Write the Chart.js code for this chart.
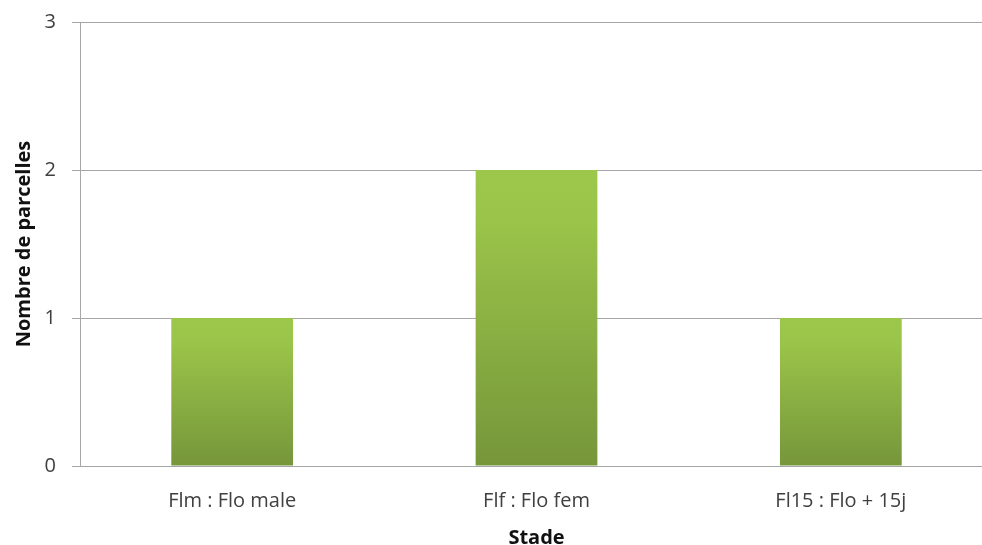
<!DOCTYPE html>
<html><head><meta charset="utf-8">
<script src="https://cdn.jsdelivr.net/npm/chart.js@4"></script>
<style>html,body{margin:0;padding:0;background:#fff;overflow:hidden;}#wrap{width:993px;height:545px;}</style>
</head><body><div id="wrap"><canvas id="c"></canvas></div>
<script>
const categories = ["Flm : Flo male", "Flf : Flo fem", "Fl15 : Flo + 15j"];
const values = [1, 2, 1];
const yTicks = [0, 1, 2, 3];
const xTitle = "Stade";
const yTitle = "Nombre de parcelles";

const FONT = "'Open Sans', 'Liberation Sans', sans-serif";

function barGradient(ctx) {
  const chart = ctx.chart;
  if (!chart.chartArea || ctx.type !== 'data') return '#8BB044';
  const ys = chart.scales.y;
  const top = ys.getPixelForValue(ctx.raw);
  const bot = ys.getPixelForValue(0);
  const g = chart.ctx.createLinearGradient(0, top, 0, bot);
  g.addColorStop(0, '#9CC74B');
  g.addColorStop(0.15, '#9BC54A');
  g.addColorStop(1, '#76963A');
  return g;
}

new Chart(document.getElementById('c'), {
  type: 'bar',
  data: {
    labels: categories,
    datasets: [{
      data: values,
      backgroundColor: barGradient,
      borderWidth: 0,
      categoryPercentage: 0.4,
      barPercentage: 1.0
    }]
  },
  options: {
    responsive: true,
    maintainAspectRatio: false,
    animation: false,
    layout: { padding: { top: 22, right: 0, bottom: 0, left: 0 } },
    plugins: { legend: { display: false }, tooltip: { enabled: false } },
    scales: {
      x: {
        grid: { display: false },
        border: { display: true, color: '#A6A6A6', width: 1 },
        ticks: { color: '#404040', font: { family: FONT, size: 20 }, padding: 15 },
        title: { display: true, text: xTitle, color: '#111', font: { family: FONT, size: 20, weight: 'bold' }, padding: { top: 6, bottom: -5 } },
        afterFit: (s) => { s.height = 79; s.paddingLeft = 0; s.paddingRight = 0; }
      },
      y: {
        min: 0, max: 3,
        afterBuildTicks: (s) => { s.ticks = yTicks.map(v => ({ value: v })); },
        grid: { color: '#A6A6A6', lineWidth: 1, tickLength: 8, drawTicks: true },
        border: { display: true, color: '#A6A6A6', width: 1 },
        ticks: { color: '#404040', font: { family: FONT, size: 20 }, padding: 16 },
        title: { display: true, text: yTitle, color: '#111', font: { family: FONT, size: 20, weight: 'bold' }, padding: { top: 12, bottom: 0 } },
        afterFit: (s) => { s.width = 80; s.paddingTop = 0; s.paddingBottom = 0; }
      }
    }
  }
});
</script></body></html>
